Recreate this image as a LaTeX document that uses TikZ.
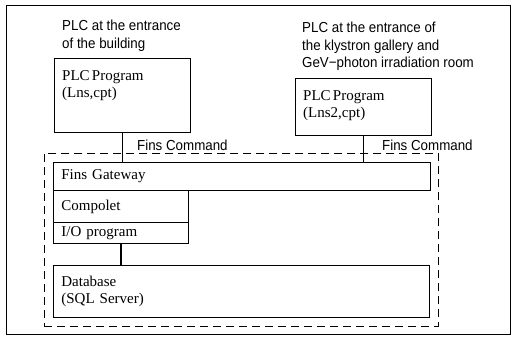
\documentclass[tikz,border=0pt]{standalone}
\usepackage{fontspec}
\setmainfont{Liberation Serif}[WordSpace=0.6]
\newfontfamily\labelfont[FakeStretch=0.92]{Liberation Sans}
\usetikzlibrary{positioning}

\begin{document}
\begin{tikzpicture}[
    x=1pt, y=-1pt,
    every node/.style={inner sep=0pt},
    title/.style={font=\labelfont\fontsize{14.5}{17.5}\selectfont, align=left, anchor=north west},
    cmd/.style={font=\labelfont\fontsize{14.5}{17}\selectfont, anchor=base west},
    box/.style={
        draw, line width=0.8pt, anchor=north west,
        align=left, inner xsep=8pt,
        font=\fontsize{15}{17}\selectfont
    },
    boxtext/.style={font=\fontsize{15}{17}\selectfont, align=left},
    group/.style={draw, dash pattern=on 8pt off 5pt, line width=0.8pt, anchor=north west},
    link/.style={line width=1.3pt},
]

% --- frame ---
\useasboundingbox (0,0) rectangle (512,340);
\draw[line width=1pt] (6,5) rectangle (510,334);

% --- PLC at the entrance of the building ---
\node[title] (titleA) at (62,20) {PLC at the entrance\\of the building};
\node[box, text width=120pt, minimum height=74pt] (plcA) at (54,58) {};
\node[boxtext, below right=12pt and 8pt of plcA.north west] (plcAtxt) {PLC Program\\(Lns,cpt)};

% --- PLC at the entrance of the klystron gallery ---
\node[title] (titleB) at (302,22) {PLC at the entrance of\\the klystron gallery and\\GeV−photon irradiation room};
\node[box, text width=120pt, minimum height=57pt] (plcB) at (295,78) {};
\node[boxtext, below right=12pt and 8pt of plcB.north west] (plcBtxt) {PLC Program\\(Lns2,cpt)};

% --- PC side ---
\node[group, minimum width=394pt, minimum height=173pt] (pc) at (44,153) {};
\node[box, text width=361pt, minimum height=28pt] (gw) at (53,162) {Fins Gateway};
\node[box, text width=119pt, minimum height=32pt] (compolet) at (53,190) {Compolet};
\node[box, text width=119pt, minimum height=21pt] (io) at (53,222) {I/O program};
\node[box, text width=360pt, minimum height=52pt] (db) at (53,265) {Database\\(SQL Server)};

% --- connections ---
\draw[link] (plcA.south) -- (plcA.south |- gw.north);
\draw[link] (plcB.south) -- (plcB.south |- gw.north);
\draw[link] (io.south) -- (io.south |- db.north);

\node[cmd] (cmdA) at (137,150) {Fins Command};
\node[cmd] (cmdB) at (382,150) {Fins Command};

\end{tikzpicture}
\end{document}
